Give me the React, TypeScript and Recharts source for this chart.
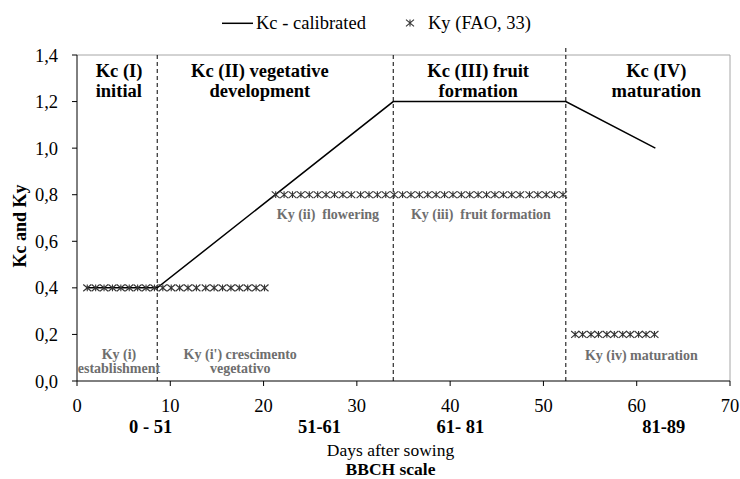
import React from 'react';
import {
  ComposedChart,
  Line,
  Scatter,
  XAxis,
  YAxis,
  ReferenceLine,
  ReferenceDot,
  Legend,
} from 'recharts';

// ---------- data ----------
const kcDays = [1, 8.6, 33.9, 52.4, 62];
const kcValues = [0.4, 0.4, 1.2, 1.2, 1.0];

const kyInitialDays = [
  1.1, 2.0, 2.9, 3.8, 4.7, 5.6, 6.5, 7.4, 8.3, 9.2, 10.1, 11.0, 11.9, 12.8, 13.8,
  14.7, 15.6, 16.5, 17.4, 18.3, 19.2, 20.1,
];
const kyInitialValue = 0.4;

const kyMidDays = [
  21.3, 22.2, 23.1, 24.0, 24.9, 25.8, 26.7, 27.6, 28.5, 29.4, 30.4, 31.3, 32.2, 33.1,
  34.0, 34.9, 35.8, 36.7, 37.6, 38.5, 39.4, 40.3, 41.2, 42.1, 43.0, 43.9, 44.8, 45.7,
  46.6, 47.5, 48.5, 49.4, 50.3, 51.2, 52.1,
];
const kyMidValue = 0.8;

const kyLateDays = [53.4, 54.2, 55.1, 55.9, 56.8, 57.6, 58.5, 59.3, 60.2, 61.0, 61.9];
const kyLateValue = 0.2;

const stageBoundaries = [8.6, 33.9, 52.4];

const xTicks = [0, 10, 20, 30, 40, 50, 60, 70];
const yTicks = [0, 0.2, 0.4, 0.6, 0.8, 1.0, 1.2, 1.4];

const bbchLabels = ['0 - 51', '51-61', '61- 81', '81-89'];
const bbchDays = [7.9, 26, 41.1, 62.9];

const seriesNames = ['Kc - calibrated', 'Ky (FAO, 33)'];

// annotation texts (anchored at data coordinates)
const kcStageTexts = [
  ['Kc (I)', 'initial'],
  ['Kc (II) vegetative', 'development'],
  ['Kc (III) fruit', 'formation'],
  ['Kc (IV)', 'maturation'],
];
const kcStageDays = [2.0, 19.6, 43.0, 62.1];
const kcStageLevel = 1.305;

const kyStageTexts = [
  ['Ky (i)', 'establishment'],
  ["Ky (i') crescimento", 'vegetativo'],
  ['Ky (ii)  flowering'],
  ['Ky (iii)  fruit formation'],
  ['Ky (iv) maturation'],
];
const kyStageDays = [4.5, 17.5, 26.9, 43.3, 60.5];
const kyStageLevels = [0.094, 0.094, 0.695, 0.695, 0.092];

// ---------- derived tables ----------
const kcData = kcDays.map((d, i) => ({ x: d, y: kcValues[i] }));
const kyInitialData = kyInitialDays.map((d) => ({ x: d, y: kyInitialValue }));
const kyMidData = kyMidDays.map((d) => ({ x: d, y: kyMidValue }));
const kyLateData = kyLateDays.map((d) => ({ x: d, y: kyLateValue }));

const FONT = 'Liberation Serif';
const FS = 18.5;
const KY_FS = 14;
const STAR_COLOR = '#333333';
const KY_TEXT = '#6e6e6e';

const StarMark = ({ cx, cy }: { cx: number; cy: number }) => {
  if (cx == null || cy == null) return null;
  const sx = 4;
  const sy = 3.4;
  return (
    <path
      d={`M${cx - sx},${cy - sy}L${cx + sx},${cy + sy}M${cx - sx},${cy + sy}L${cx + sx},${cy - sy}M${cx},${cy - sy}L${cx},${cy + sy}`}
      stroke={STAR_COLOR}
      strokeWidth={1.1}
      fill="none"
    />
  );
};

const renderStar = (props: any) => <StarMark cx={props.cx} cy={props.cy} />;

const LegendContent = () => (
  <svg width={740} height={34} style={{ display: 'block' }}>
    <line x1={222} y1={23.3} x2={253} y2={23.3} stroke="#000" strokeWidth={1.5} />
    <text x={256} y={29} style={{ fontFamily: FONT }} fontSize={FS} fill="#000">
      {seriesNames[0]}
    </text>
    <StarMark cx={410} cy={23} />
    <text x={428} y={29} style={{ fontFamily: FONT }} fontSize={FS} fill="#000">
      {seriesNames[1]}
    </text>
  </svg>
);

const makeTextShape =
  (
    lines: string[],
    opts: { size: number; color: string; lh: number; anchor: string; bold?: boolean }
  ) =>
  (props: any) => {
    const { cx, cy } = props;
    if (cx == null || cy == null) return null;
    return (
      <text
        x={cx}
        y={cy}
        style={{ fontFamily: FONT, whiteSpace: 'pre' }}
        fontSize={opts.size}
        fontWeight={opts.bold === false ? 'normal' : 'bold'}
        fill={opts.color}
        textAnchor={opts.anchor as any}
      >
        {lines.map((l, i) => (
          <tspan key={i} x={cx} y={cy + i * opts.lh}>
            {l}
          </tspan>
        ))}
      </text>
    );
  };

export default function App() {
  return (
    <div
      style={{
        position: 'absolute',
        left: 0,
        top: 0,
        width: 740,
        height: 479,
        background: '#fff',
        fontFamily: FONT,
      }}
    >
      <ComposedChart
        width={740}
        height={479}
        margin={{ top: 55, right: 10, bottom: 0, left: 0 }}
        style={{ fontFamily: FONT }}
      >
        <XAxis
          type="number"
          dataKey="x"
          domain={[0, 70]}
          ticks={xTicks}
          interval={0}
          height={98}
          tickSize={5}
          tickMargin={13}
          axisLine={{ stroke: '#000', strokeWidth: 1 }}
          tickLine={{ stroke: '#000' }}
          tick={{ fill: '#000', fontSize: FS, style: { fontFamily: FONT } }}
          label={(props: any) => {
            const vb = props.viewBox || {};
            const cx = vb.x + vb.width / 2 - 13;
            return (
              <g>
                <text
                  x={cx}
                  y={vb.y + 74.5}
                  textAnchor="middle"
                  style={{ fontFamily: FONT }}
                  fontSize={17.5}
                  fill="#000"
                >
                  Days after sowing
                </text>
                <text
                  x={cx}
                  y={vb.y + 94}
                  textAnchor="middle"
                  style={{ fontFamily: FONT }}
                  fontSize={17.5}
                  fontWeight="bold"
                  fill="#000"
                >
                  BBCH scale
                </text>
              </g>
            );
          }}
        />
        <YAxis
          type="number"
          domain={[0, 1.4]}
          ticks={yTicks}
          interval={0}
          width={77}
          tickSize={5}
          tickMargin={14}
          axisLine={{ stroke: '#000', strokeWidth: 1 }}
          tickLine={{ stroke: '#000' }}
          tick={{ fill: '#000', fontSize: FS, style: { fontFamily: FONT } }}
          tickFormatter={(v: number) => v.toFixed(1).replace('.', ',')}
          label={(props: any) => {
            const vb = props.viewBox || {};
            const x = vb.x + 20;
            const y = vb.y + vb.height / 2 + 8;
            return (
              <text
                x={x}
                y={y}
                transform={`rotate(-90 ${x} ${y})`}
                textAnchor="middle"
                dominantBaseline="central"
                style={{ fontFamily: FONT }}
                fontSize={18}
                fontWeight="bold"
                fill="#000"
              >
                Kc and Ky
              </text>
            );
          }}
        />
        <Legend
          layout="vertical"
          align="center"
          verticalAlign="middle"
          wrapperStyle={{ top: 0, left: 0, width: 740, height: 34 }}
          content={() => <LegendContent />}
        />

        {/* plot border (top / right) */}
        <ReferenceLine y={1.4} stroke="#a6a6a6" strokeWidth={1} />
        <ReferenceLine x={70} stroke="#a6a6a6" strokeWidth={1} />

        {/* stage boundaries */}
        <ReferenceLine x={stageBoundaries[0]} stroke="#000" strokeDasharray="4 3" strokeWidth={1} />
        <ReferenceLine x={stageBoundaries[1]} stroke="#000" strokeDasharray="4 3" strokeWidth={1} />
        <ReferenceLine
          segment={[
            { x: stageBoundaries[2], y: 0 },
            { x: stageBoundaries[2], y: 1.435 },
          ]}
          ifOverflow="visible"
          stroke="#000"
          strokeDasharray="4 3"
          strokeWidth={1}
        />

        <Scatter data={kyInitialData} dataKey="y" shape={renderStar} isAnimationActive={false} />
        <Scatter data={kyMidData} dataKey="y" shape={renderStar} isAnimationActive={false} />
        <Scatter data={kyLateData} dataKey="y" shape={renderStar} isAnimationActive={false} />

        <Line
          data={kcData}
          dataKey="y"
          type="linear"
          stroke="#000"
          strokeWidth={1.5}
          dot={false}
          activeDot={false}
          isAnimationActive={false}
        />

        {kcStageTexts.map((lines, i) => (
          <ReferenceDot
            key={`kc-${i}`}
            x={kcStageDays[i]}
            y={kcStageLevel}
            r={0}
            ifOverflow="visible"
            shape={makeTextShape(lines, {
              size: FS,
              color: '#000',
              lh: 20,
              anchor: i === 0 ? 'start' : 'middle',
            })}
          />
        ))}
        {kyStageTexts.map((lines, i) => (
          <ReferenceDot
            key={`ky-${i}`}
            x={kyStageDays[i]}
            y={kyStageLevels[i]}
            r={0}
            ifOverflow="visible"
            shape={makeTextShape(lines, { size: KY_FS, color: KY_TEXT, lh: 14, anchor: 'middle' })}
          />
        ))}
        {bbchLabels.map((lab, i) => (
          <ReferenceDot
            key={`bbch-${i}`}
            x={bbchDays[i]}
            y={0}
            r={0}
            ifOverflow="visible"
            shape={(props: any) =>
              props.cx == null ? null : (
                <text
                  x={props.cx}
                  y={props.cy + 52}
                  textAnchor="middle"
                  style={{ fontFamily: FONT, whiteSpace: 'pre' }}
                  fontSize={FS}
                  fontWeight="bold"
                  fill="#000"
                >
                  {lab}
                </text>
              )
            }
          />
        ))}
      </ComposedChart>
    </div>
  );
}
